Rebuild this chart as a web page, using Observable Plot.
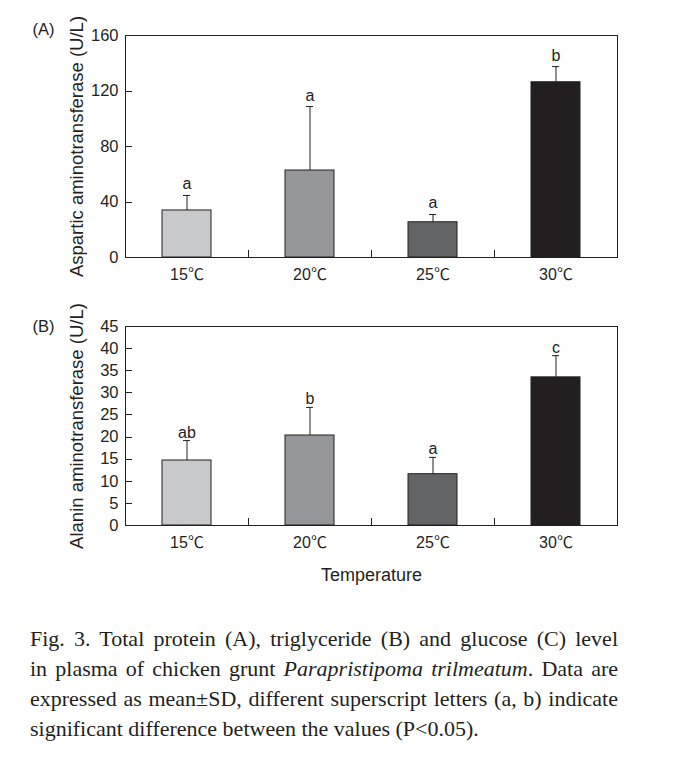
<!DOCTYPE html>
<html>
<head>
<meta charset="utf-8">
<script src="https://cdn.jsdelivr.net/npm/d3@7"></script>
<script src="https://cdn.jsdelivr.net/npm/@observablehq/plot@0.6"></script>
<style>
  html, body { margin: 0; padding: 0; background: #fff; }
  #root { position: relative; width: 675px; height: 758px; overflow: hidden; }
  .panel { position: absolute; left: 0; }
  .panel svg g[aria-label$="axis"] text,
  .panel svg g[aria-label$="tick label"] text { font-size: 16px; fill: #231f20; }
  #caption { position: absolute; left: 30px; top: 624px; width: 588px;
    font-family: "Liberation Serif", "Times New Roman", serif; font-size: 22px; line-height: 30px; color: #231f20; }
  #caption div { text-align: justify; text-align-last: justify; white-space: nowrap; }
  #caption div.last { text-align-last: left; }
</style>
</head>
<body>
<div id="root">
  <div id="panelA" class="panel" style="top:0px"></div>
  <div id="panelB" class="panel" style="top:290px"></div>
  <div id="caption">
    <div>Fig. 3. Total protein (A), triglyceride (B) and glucose (C) level</div>
    <div>in plasma of chicken grunt <i>Parapristipoma trilmeatum</i>. Data are</div>
    <div>expressed as mean±SD, different superscript letters (a, b) indicate</div>
    <div class="last">significant difference between the values (P&lt;0.05).</div>
  </div>
</div>
<script>
// ---- data ----
const categories = ["15℃", "20℃", "25℃", "30℃"];
const astMean = [33.9, 62.7, 25.4, 126.3];
const astSD = [10.8, 46.1, 5.6, 11.3];
const astLetters = ["a", "a", "a", "b"];
const altMean = [14.7, 20.35, 11.6, 33.5];
const altSD = [4.5, 6.35, 3.8, 4.9];
const altLetters = ["ab", "b", "a", "c"];
const astTicks = [0, 40, 80, 120, 160];
const altTicks = [0, 5, 10, 15, 20, 25, 30, 35, 40, 45];
const barColors = ["#c8c9cb", "#959699", "#636466", "#231f20"];
const ink = "#231f20";

function rows(mean, sd, letters) {
  return categories.map((c, i) => ({temp: c, mean: mean[i], top: mean[i] + sd[i], letter: letters[i]}));
}

// inward ticks: y ticks on the left frame edge, x ticks at band boundaries
function innerTicks(yTicks) {
  return (index, scales, values, dims) => {
    const x = scales.x, y = scales.y;
    const g = d3.create("svg:g").attr("stroke", ink).attr("stroke-width", 1).attr("fill", "none");
    const step = x(categories[1]) - x(categories[0]);
    const bw = x.bandwidth ? x.bandwidth() : step * 0.4;
    const y0 = y(0);
    categories.slice(1).forEach(c => {
      const bx = Math.round(x(c) - (step - bw) / 2) + 0.5;
      g.append("line").attr("x1", bx).attr("x2", bx).attr("y1", y0).attr("y2", y0 - 7);
    });
    const left = dims.marginLeft;
    yTicks.forEach(t => {
      const ty = Math.round(y(t)) + 0.5;
      g.append("line").attr("x1", left).attr("x2", left + 7).attr("y1", ty).attr("y2", ty);
    });
    return g.node();
  };
}

function panel({data, ticks, ymax, ylabel, tag, tagDy, letterDy, height, marginTop, marginBottom, xlabel}) {
  const marks = [
    Plot.barY(data, {x: "temp", y: "mean", fill: "temp", stroke: ink, strokeWidth: 1}),
    Plot.ruleX(data, {x: "temp", y1: "mean", y2: "top", stroke: ink, strokeWidth: 1}),
    Plot.tickY(data, {x: "temp", y: "top", stroke: ink, strokeWidth: 1, insetLeft: 21, insetRight: 21}),
    Plot.text(data, {x: "temp", y: "top", text: "letter", dy: letterDy, lineAnchor: "bottom", fontSize: 16, fill: ink}),
    Plot.frame({stroke: ink, strokeWidth: 1}),
    innerTicks(ticks),
    Plot.text(ticks, {y: d => d, text: d => String(d), frameAnchor: "left", dx: -7, textAnchor: "end", lineAnchor: "middle", fontSize: 16.5, fill: ink}),
    Plot.text([ylabel], {text: d => d, frameAnchor: "left", dx: -48.5, rotate: -90, textAnchor: "middle", lineAnchor: "middle", fontSize: 18.5, fill: ink}),
    Plot.text([tag], {text: d => d, frameAnchor: "top-left", dx: -93, dy: tagDy, fontSize: 16.5, fill: ink, textAnchor: "start", lineAnchor: "middle"})
  ];
  if (xlabel) marks.push(Plot.text([xlabel], {text: d => d, frameAnchor: "bottom", dy: 50, fontSize: 18, fill: ink, lineAnchor: "middle"}));
  return Plot.plot({
    width: 675,
    height,
    marginLeft: 125,
    marginRight: 58,
    marginTop,
    marginBottom,
    style: {fontFamily: "'Liberation Sans', Arial, 'Noto Sans CJK SC', sans-serif", fontSize: "16px", color: ink, background: "transparent", overflow: "visible"},
    x: {domain: categories, paddingInner: 0.6, paddingOuter: 0.3, tickSize: 0, tickPadding: 11, label: null},
    y: {domain: [0, ymax], axis: null},
    color: {domain: categories, range: barColors},
    marks
  });
}

document.getElementById("panelA").appendChild(panel({
  data: rows(astMean, astSD, astLetters), ticks: astTicks, ymax: 160,
  ylabel: "Aspartic aminotransferase (U/L)", tag: "(A)", tagDy: -6, letterDy: -6,
  height: 300, marginTop: 35, marginBottom: 43
}));
document.getElementById("panelB").appendChild(panel({
  data: rows(altMean, altSD, altLetters), ticks: altTicks, ymax: 45,
  ylabel: "Alanin aminotransferase (U/L)", tag: "(B)", tagDy: 0, letterDy: -3,
  height: 300, marginTop: 36, marginBottom: 65, xlabel: "Temperature"
}));
</script>
</body>
</html>
